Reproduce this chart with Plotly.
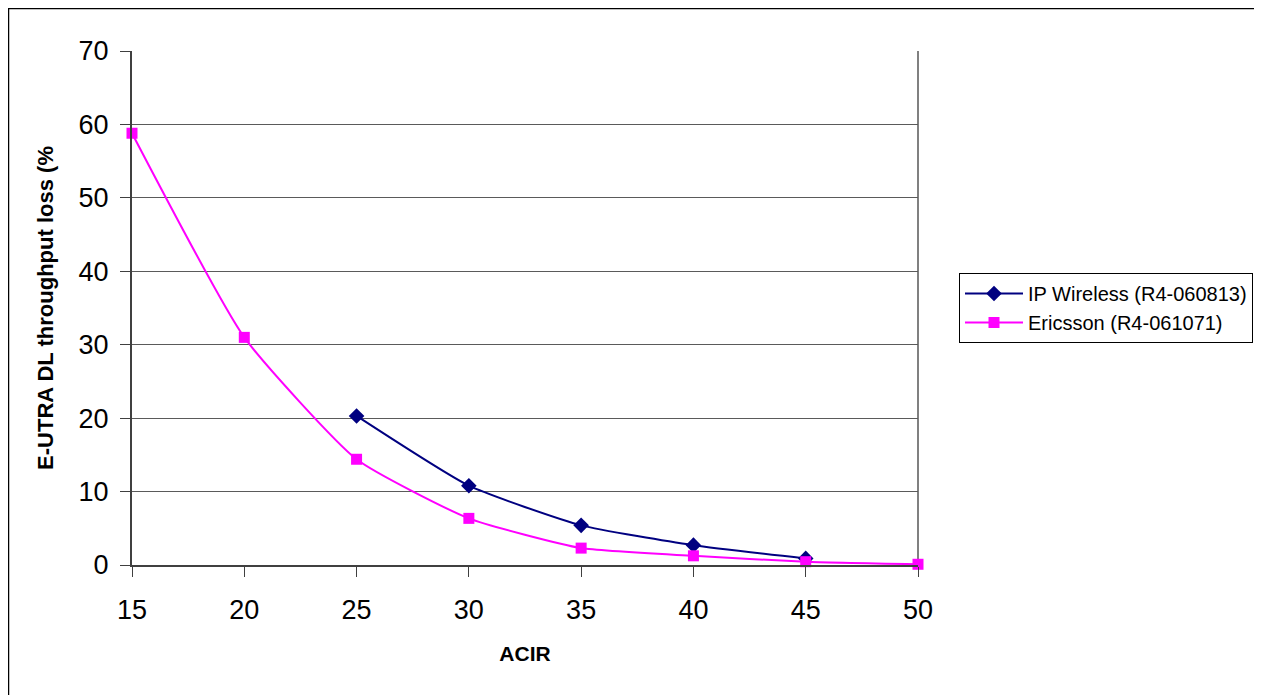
import plotly.graph_objects as go

acir_ip = [25, 30, 35, 40, 45]
loss_ip = [20.3, 10.8, 5.4, 2.7, 0.9]
acir_er = [15, 20, 25, 30, 35, 40, 45, 50]
loss_er = [58.8, 31.0, 14.4, 6.35, 2.3, 1.25, 0.45, 0.1]
name_ip = "IP Wireless (R4-060813)"
name_er = "Ericsson (R4-061071)"
x_ticks = [15, 20, 25, 30, 35, 40, 45, 50]
y_ticks = [0, 10, 20, 30, 40, 50, 60, 70]

FONT = "Liberation Sans, Arial, sans-serif"

fig = go.Figure()
fig.add_trace(go.Scatter(
    x=acir_ip, y=loss_ip, name=name_ip, mode="lines+markers", cliponaxis=False,
    line=dict(color="#000080", width=2, shape="spline", smoothing=0.5),
    marker=dict(symbol="diamond", size=12, color="#000080"),
))
fig.add_trace(go.Scatter(
    x=acir_er, y=loss_er, name=name_er, mode="lines+markers", cliponaxis=False,
    line=dict(color="#FF00FF", width=2, shape="spline", smoothing=0.5),
    marker=dict(symbol="square", size=11, color="#FF00FF"),
))

# page offset of the figure (body margin) is 8px
OFF = 8
W, H = 1262 - OFF, 695 - OFF
L, R, T, B = 132 - OFF, 918 - OFF, 51 - OFF, 565 - OFF

fig.update_layout(
    width=W, height=H,
    margin=dict(l=L, r=W - R, t=T, b=H - B, pad=0, autoexpand=False),
    paper_bgcolor="white", plot_bgcolor="white",
    font=dict(family=FONT, color="black"),
    showlegend=True,
    legend=dict(
        x=(959 - OFF - L) / (R - L), y=(B - (308 - OFF)) / (B - T),
        xanchor="left", yanchor="middle",
        bordercolor="black", borderwidth=1, bgcolor="white",
        font=dict(family=FONT, size=20, color="black"),
        itemwidth=58, tracegroupgap=4,
    ),
    xaxis=dict(
        range=[15, 50], tickvals=x_ticks, ticks="outside", ticklen=10,
        tickcolor="#404040", tickwidth=1, ticklabelstandoff=10,
        showline=True, linecolor="#404040", linewidth=2, mirror=False,
        showgrid=False, zeroline=False,
        tickfont=dict(family=FONT, size=27, color="black"),
        title=dict(text="<b>ACIR</b>", font=dict(family=FONT, size=21, color="black"), standoff=22),
    ),
    yaxis=dict(
        range=[0, 70], tickvals=y_ticks, ticks="outside", ticklen=10,
        tickcolor="#404040", tickwidth=1, ticklabelstandoff=6,
        showline=True, linecolor="#404040", linewidth=2,
        showgrid=True, gridcolor="#5a5a5a", gridwidth=1, zeroline=False,
        tickfont=dict(family=FONT, size=27, color="black"),
        title=dict(text="<b>E-UTRA DL throughput loss (%</b>", font=dict(family=FONT, size=22, color="black"), standoff=19),
    ),
)

# plot area right border (grey)
fig.add_shape(type="line", xref="paper", yref="paper", x0=1, x1=1, y0=0, y1=1,
              line=dict(color="#808080", width=2), layer="below")
# outer chart border
fig.add_shape(type="rect", xref="paper", yref="paper",
              x0=(0.5 - L) / (R - L), x1=(1300 - L) / (R - L),
              y0=(B - 700) / (B - T), y1=(B - 0.5) / (B - T),
              line=dict(color="black", width=1.5), fillcolor="rgba(0,0,0,0)", layer="below")

fig.write_html("out.html")
